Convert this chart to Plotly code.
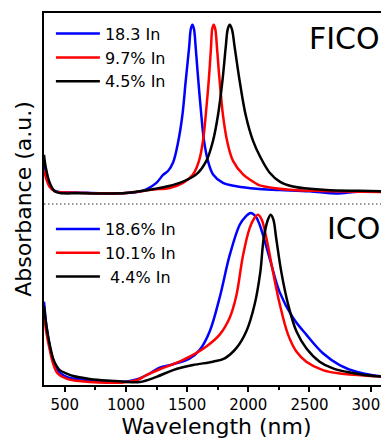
import plotly.graph_objects as go

# ---------------- data ----------------
# ICO panel (bottom)
ico_blue_x = [330, 350, 377, 404, 432, 459, 514, 568, 704, 840, 976, 1085, 1194, 1276, 1385, 1521, 1603,
              1685, 1766, 1848, 1930, 1980, 2020, 2060, 2093, 2175, 2257, 2365, 2474, 2610, 2747, 2883, 3016, 3150]
ico_blue_y = [0.475, 0.33, 0.21, 0.13, 0.08, 0.055, 0.03, 0.02, 0.008, 0.0, 0.0, 0.015, 0.05, 0.085, 0.105,
              0.14, 0.19, 0.30, 0.50, 0.75, 0.93, 0.98, 1.0, 0.98, 0.93, 0.73, 0.53, 0.38, 0.28, 0.17, 0.10,
              0.06, 0.04, 0.03]

ico_red_x = [330, 350, 377, 404, 432, 459, 514, 568, 704, 840, 976, 1085, 1167, 1276, 1385, 1521, 1657, 1766,
             1848, 1902, 1957, 2011, 2050, 2079, 2110, 2148, 2202, 2257, 2325, 2393, 2474, 2610, 2747, 3016, 3150]
ico_red_y = [0.40, 0.29, 0.19, 0.11, 0.06, 0.04, 0.02, 0.01, 0.0, -0.005, -0.003, 0.01, 0.04, 0.075, 0.105,
             0.15, 0.21, 0.28, 0.38, 0.51, 0.75, 0.91, 0.97, 0.99, 0.96, 0.85, 0.65, 0.46, 0.28, 0.18, 0.12,
             0.07, 0.05, 0.035, 0.03]

ico_black_x = [330, 350, 377, 404, 432, 459, 514, 568, 704, 840, 976, 1113, 1249, 1385, 1548, 1712, 1807, 1902,
               1984, 2052, 2098, 2126, 2160, 2183, 2205, 2228, 2270, 2325, 2393, 2474, 2583, 2692, 2801, 2965, 3150]
ico_black_y = [0.45, 0.33, 0.22, 0.14, 0.095, 0.07, 0.05, 0.035, 0.018, 0.008, 0.002, 0.0, 0.03, 0.07, 0.10,
               0.12, 0.14, 0.20, 0.30, 0.46, 0.65, 0.85, 0.96, 0.99, 0.96, 0.85, 0.65, 0.46, 0.30, 0.20, 0.12,
               0.08, 0.06, 0.04, 0.03]

# FICO panel (top), values relative to its own baseline
fico_blue_x = [330, 350, 377, 418, 460, 600, 800, 1000, 1100, 1167, 1249, 1303, 1344, 1385, 1426, 1461, 1488,
               1516, 1530, 1543, 1556, 1570, 1592, 1616, 1638, 1670, 1712, 1793, 1902, 2066, 2257, 2500, 2720,
               2900, 3150]
fico_blue_y = [0.167, 0.10, 0.04, 0.012, 0.005, 0.003, -0.002, 0.0, 0.008, 0.022, 0.06, 0.107, 0.13, 0.18, 0.30,
               0.46, 0.66, 0.86, 0.97, 0.996, 0.97, 0.86, 0.66, 0.46, 0.31, 0.19, 0.11, 0.06, 0.04, 0.025,
               0.018, 0.01, -0.003, 0.008, 0.008]

fico_red_x = [330, 350, 377, 418, 460, 600, 800, 1000, 1222, 1358, 1466, 1548, 1597, 1630, 1652, 1676, 1695,
              1705, 1717, 1730, 1744, 1766, 1793, 1826, 1875, 1957, 2066, 2093, 2202, 2365, 2600, 3150]
fico_red_y = [0.137, 0.08, 0.035, 0.01, 0.004, 0.002, -0.002, 0.0, 0.02, 0.03, 0.06, 0.11, 0.19, 0.31, 0.46,
              0.66, 0.86, 0.97, 0.996, 0.97, 0.86, 0.66, 0.46, 0.31, 0.19, 0.11, 0.055, 0.045, 0.03, 0.018,
              0.012, 0.006]

fico_black_x = [330, 345, 377, 418, 460, 600, 800, 1000, 1113, 1276, 1439, 1575, 1657, 1712, 1752, 1788, 1815,
                1832, 1848, 1866, 1889, 1930, 1979, 2038, 2100, 2175, 2257, 2365, 2637, 2910, 3150]
fico_black_y = [0.226, 0.15, 0.06, 0.01, 0.0, -0.002, -0.003, 0.0, 0.01, 0.03, 0.06, 0.11, 0.19, 0.31, 0.46,
                0.66, 0.86, 0.97, 0.996, 0.97, 0.86, 0.66, 0.46, 0.31, 0.21, 0.12, 0.067, 0.038, 0.018,
                0.013, 0.01]

fico_labels = ["18.3 In", "9.7% In", "4.5% In"]
ico_labels = ["18.6% In", "10.1% In", "\u00a04.4% In"]

FICO_OFFSET = 1.118
SEPARATOR_Y = 1.053

x_tick_vals = [500, 1000, 1500, 2000, 2500, 3000]
x_tick_text = ["500", "1000", "1500", "2000", "2500", "3000"]

colors = ["#0000ff", "#ff0000", "#000000"]
FONT = "DejaVu Sans"

fig = go.Figure()

fico_sets = [(fico_blue_x, fico_blue_y), (fico_red_x, fico_red_y), (fico_black_x, fico_black_y)]
ico_sets = [(ico_blue_x, ico_blue_y), (ico_red_x, ico_red_y), (ico_black_x, ico_black_y)]

for i, ((xs, ys), lab) in enumerate(zip(fico_sets, fico_labels)):
    fig.add_trace(go.Scatter(
        x=xs, y=[v + FICO_OFFSET for v in ys], mode="lines", name=lab,
        line=dict(color=colors[i], width=2.5, shape="spline", smoothing=1.0),
        legend="legend", legendgroup="f%d" % i))

for i, ((xs, ys), lab) in enumerate(zip(ico_sets, ico_labels)):
    fig.add_trace(go.Scatter(
        x=xs, y=ys, mode="lines", name=lab,
        line=dict(color=colors[i], width=2.5, shape="spline", smoothing=1.0),
        legend="legend2", legendgroup="i%d" % i))

fig.add_shape(type="line", xref="paper", x0=0, x1=1, yref="y", y0=SEPARATOR_Y, y1=SEPARATOR_Y,
              line=dict(color="#333333", width=1.2, dash="1.5px,2.5px"))

fig.add_annotation(text="FICO", xref="paper", x=0.98, xanchor="right", yref="y", y=2.035, yanchor="middle",
                   showarrow=False, font=dict(family=FONT, size=30, color="black"))
fig.add_annotation(text="ICO", xref="paper", x=0.98, xanchor="right", yref="y", y=0.91, yanchor="middle",
                   showarrow=False, font=dict(family=FONT, size=30, color="black"))

legend_common = dict(font=dict(family=FONT, size=16, color="black"), bgcolor="rgba(0,0,0,0)",
                     borderwidth=0, xanchor="left", yanchor="top", tracegroupgap=0, itemwidth=44)

# The page body has an 8px margin, so the figure is sized to end at the window edges.
fig.update_layout(
    width=381, height=436,
    margin=dict(l=36, r=0, t=5, b=59),
    paper_bgcolor="white", plot_bgcolor="white",
    font=dict(family=FONT, color="black"),
    showlegend=True,
    legend=dict(x=0.02, y=0.99, **legend_common),
    legend2=dict(x=0.02, y=0.465, **legend_common),
    xaxis=dict(range=[330, 3150], tickvals=x_tick_vals, ticktext=x_tick_text,
               ticks="outside", ticklen=5, tickwidth=1.5, tickcolor="black",
               minor=dict(dtick=250, tick0=0, ticks="outside", ticklen=3, tickwidth=1.5, tickcolor="black"),
               showline=True, linewidth=2, linecolor="black", mirror=True,
               showgrid=False, zeroline=False, ticklabeloverflow="allow",
               tickfont=dict(family=FONT, size=15, color="black"),
               title=dict(text="Wavelength (nm)", font=dict(family=FONT, size=22, color="black"), standoff=2)),
    yaxis=dict(range=[-0.018, 2.183], showticklabels=False, ticks="",
               showline=True, linewidth=2, linecolor="black", mirror=False,
               showgrid=False, zeroline=False,
               title=dict(text="Absorbance (a.u.)", font=dict(family=FONT, size=22, color="black"), standoff=4)),
)

fig.write_html("out.html")
